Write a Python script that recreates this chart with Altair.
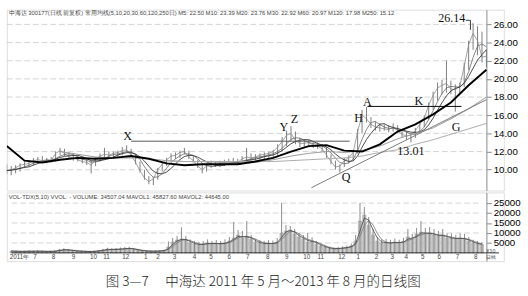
import altair as alt
import pandas as pd

# ---------------- data ----------------
# weekly bars (5 trading days each), trading-day index = 5 * week
week_low = [
    9.5, 9.4, 9.6, 9.8, 10.2, 10.3, 10.5, 10.7, 10.8, 10.7,
    10.8, 10.9, 11.6, 11.5, 11.2, 11.0, 10.9, 10.7, 10.5, 9.6,
    10.4, 10.9, 11.1, 11.2, 11.3, 11.4, 11.6, 11.9, 11.4, 10.6,
    9.7, 8.9, 8.4, 8.3, 8.9, 9.8, 10.4, 10.9, 11.2, 11.3,
    11.7, 11.2, 10.8, 10.2, 9.6, 9.8, 10.2, 10.3, 10.3, 10.4,
    10.5, 10.6, 10.6, 10.7, 10.9, 11.0, 11.0, 11.1, 11.2, 11.3,
    11.4, 11.6, 12.0, 12.6, 13.2, 12.8, 12.5, 12.4, 12.5, 12.4,
    12.3, 12.0, 11.3, 10.6, 10.0, 9.7, 10.3, 10.7, 11.0, 11.8,
    14.0, 15.2, 14.6, 14.3, 14.2, 14.3, 14.1, 14.2, 14.0, 13.5,
    13.3, 13.0, 13.5, 14.0, 14.7, 15.5, 16.6, 17.6, 18.3, 18.5,
    18.3, 16.4, 18.4, 19.1, 21.0, 23.2, 22.6, 21.8, 21.3]
week_high = [
    10.6, 10.4, 10.5, 10.7, 10.9, 10.9, 11.3, 11.4, 11.5, 11.3,
    11.4, 12.0, 12.4, 12.3, 11.9, 11.7, 11.6, 11.4, 11.2, 11.0,
    11.4, 11.8, 12.4, 12.0, 12.0, 12.1, 12.5, 12.7, 12.3, 11.7,
    10.9, 10.0, 9.3, 9.2, 10.2, 10.8, 11.3, 11.8, 11.9, 12.1,
    12.4, 12.1, 11.5, 11.1, 10.6, 10.7, 11.0, 10.9, 11.0, 11.1,
    11.2, 11.3, 11.2, 11.5, 12.4, 11.8, 11.7, 11.8, 11.9, 12.0,
    12.2, 12.8, 13.6, 14.3, 14.8, 14.2, 13.5, 13.3, 13.3, 13.1,
    13.0, 12.8, 12.5, 11.7, 11.0, 10.6, 11.3, 11.6, 12.2, 14.5,
    16.6, 16.9, 15.8, 15.3, 15.1, 15.0, 14.9, 15.1, 14.9, 14.5,
    14.2, 14.0, 14.6, 15.3, 16.0, 17.4, 18.6, 19.6, 19.9, 22.0,
    19.8, 19.4, 19.6, 21.8, 24.2, 26.14, 25.8, 25.2, 23.2]
week_close = [
    9.9, 10.0, 10.2, 10.5, 10.6, 10.7, 11.0, 11.1, 11.0, 11.1,
    11.0, 11.8, 12.1, 11.8, 11.4, 11.3, 11.1, 10.9, 10.8, 10.5,
    11.2, 11.5, 11.7, 11.6, 11.8, 11.9, 12.1, 12.2, 11.6, 10.8,
    9.9, 9.1, 8.7, 9.0, 10.0, 10.6, 11.1, 11.5, 11.6, 11.9,
    12.0, 11.4, 11.0, 10.4, 10.0, 10.4, 10.6, 10.5, 10.7, 10.8,
    10.9, 10.9, 10.8, 11.2, 11.4, 11.3, 11.4, 11.6, 11.7, 11.8,
    12.0, 12.5, 13.1, 13.8, 14.0, 13.2, 12.9, 12.9, 13.0, 12.7,
    12.6, 12.3, 11.6, 10.9, 10.3, 10.4, 11.0, 11.3, 11.9, 14.2,
    16.0, 15.6, 15.0, 14.7, 14.6, 14.5, 14.4, 14.7, 14.3, 13.9,
    13.7, 13.8, 14.3, 15.0, 15.7, 17.1, 18.2, 19.0, 19.3, 19.5,
    18.9, 18.8, 19.2, 21.4, 23.8, 25.0, 24.2, 22.4, 22.5]
week_vol = [
    900, 800, 700, 800, 900, 800, 900, 800, 700, 800,
    900, 1500, 1700, 1400, 1100, 900, 800, 700, 700, 800,
    1100, 1500, 1900, 1700, 1800, 2000, 2200, 2300, 1800, 1300,
    1000, 900, 800, 900, 1000, 1200, 3000, 5500, 6500, 7000,
    6500, 5000, 4500, 4000, 4500, 5000, 4500, 4800, 4500, 5000,
    6000, 7500, 9000, 7500, 8500, 7000, 5500, 5000, 4500, 4800,
    4700, 5500, 10000, 11000, 11500, 9500, 8000, 7000, 5500, 6000,
    4500, 3500, 2800, 2200, 2000, 2300, 2500, 2800, 3500, 6000,
    16000, 19000, 14000, 9000, 6000, 5000, 5200, 4800, 5500, 5000,
    5800, 8000, 7000, 9500, 10500, 9500, 10000, 9000, 8500, 9000,
    7500, 7500, 7000, 7500, 7000, 6000, 5000, 4500, 4200]
week_vol_peak = [
    1200, 1100, 1000, 1100, 1200, 1100, 1200, 1100, 1000, 1100,
    1200, 2000, 2300, 1900, 1500, 1200, 1100, 1000, 1000, 1100,
    1500, 2000, 2600, 2300, 2400, 2700, 3000, 3100, 2400, 1800,
    1300, 1200, 1100, 1200, 1400, 1700, 5800, 7500, 8500, 12800,
    8500, 6800, 6000, 5500, 6000, 6800, 6000, 6500, 6000, 6800,
    8000, 15500, 11500, 11000, 16000, 9000, 7000, 6500, 6000, 6500,
    6200, 7500, 25000, 14000, 13500, 12000, 10000, 9000, 10000, 7800,
    6000, 4600, 3700, 3000, 2700, 3000, 3300, 3700, 4600, 9000,
    25000, 23000, 18000, 12000, 8000, 6800, 7000, 6500, 7200, 6600,
    7600, 12000, 9500, 12500, 16000, 12500, 13000, 12000, 11000, 12000,
    9800, 9800, 9000, 9800, 9500, 8000, 6600, 6000, 5500]

# long moving averages read every 20 trading days
ma60 = [12.6, 11.0, 10.8, 11.1, 11.3, 11.2, 11.3, 11.5, 11.2, 10.7,
        10.5, 10.6, 10.6, 10.6, 10.9, 11.3, 12.0, 12.6, 12.7, 12.1,
        12.0, 12.8, 14.2, 15.0, 16.1, 17.4, 19.3, 21.0]
ma120 = [None, None, None,
         12.0, 11.7, 11.4, 11.3, 11.3, 11.2, 11.0, 10.9, 10.9, 10.8,
         10.7, 10.8, 11.1, 11.5, 11.8, 12.0, 11.9, 12.1, 12.6, 13.4,
         14.0, 14.6, 15.6, 16.7, 18.0]
ma250 = [None, None, None, None, None, None, None, None, None,
         11.0, 10.9, 10.9, 10.9, 10.9, 10.9, 10.9, 11.0, 11.1, 11.2,
         11.3, 11.5, 11.9, 12.2, 12.8, 13.3, 13.9, 14.5, 15.1]

month_labels = ["2011年", "7", "8", "9", "10", "11", "12", "1", "2", "3", "4", "5", "6",
                "7", "8", "9", "10", "11", "12", "1", "2", "3", "4", "5", "6", "7", "8"]
month_pos = [9, 27, 48, 71, 94, 109, 131, 154, 168, 187, 210, 229, 250,
             271, 294, 316, 339, 355, 379, 398, 419, 437, 453, 472, 491, 512, 533]

price_ticks = [10, 12, 14, 16, 18, 20, 22, 24, 26]
vol_ticks = [5000, 10000, 15000, 20000, 25000]

note_text = ["X", "Y", "Z", "H", "A", "K", "G", "Q", "13.01", "26.14"]
note_day = [136, 312, 324, 396, 406, 464, 506, 382, 455, 501]
note_price = [13.67, 14.73, 15.58, 15.69, 17.40, 17.5, 14.73, 9.2, 12.07, 26.66]

seg_day1 = [140, 406, 343, 517, 522]
seg_price1 = [13.14, 16.97, 8.02, 26.45, 26.45]
seg_day2 = [386, 512, 540, 522, 522]
seg_price2 = [13.14, 16.97, 17.71, 26.45, 25.4]
seg_color = ["#555", "#000", "#777", "#333", "#333"]

header_price = ("中海达 300177(日线 前复权) 常用均线(5,10,20,30,60,120,250日) "
                "M5: 22.50 M10: 23.39 M20: 23.76 M30: 22.92 M60: 20.97 M120: 17.98 M250: 15.12")
header_vol = "VOL-TDX(5,10) VVOL: -  VOLUME: 34507.04 MAVOL1: 45827.60 MAVOL2: 44645.00"
title_text = "图 3—7　 中海达 2011 年 5 月～2013 年 8 月的日线图"

side_text = ["X10", "日线"]
side_day = [550, 550]
side_vol = [900, -2184]

LAST_DAY = 540

# ---------------- tables ----------------
wk = pd.DataFrame({
    "day": [5 * i for i in range(len(week_close))],
    "low": week_low, "high": week_high, "close": week_close,
    "vol": week_vol, "peak": week_vol_peak,
})
ma_rows = []
for name, arr in [("MA60", ma60), ("MA120", ma120), ("MA250", ma250)]:
    for k, v in enumerate(arr):
        if v is not None:
            ma_rows.append({"day": 20 * k, "ma": v, "line": name})
ma = pd.DataFrame(ma_rows)
pgrid = pd.DataFrame({"p": price_ticks, "d0": 0, "d1": LAST_DAY})
vgrid = pd.DataFrame({"v": vol_ticks, "d0": 0, "d1": LAST_DAY})
notes = pd.DataFrame({"t": note_text, "day": note_day, "p": note_price})
segs = pd.DataFrame({"d1": seg_day1, "p1": seg_price1, "d2": seg_day2,
                     "p2": seg_price2, "c": seg_color})
months = pd.DataFrame({"t": month_labels, "day": month_pos, "v": -2184})
side = pd.DataFrame({"t": side_text, "day": side_day, "v": side_vol})

XS = alt.Scale(domain=[0, 559.6], nice=False, zero=False)
PS = alt.Scale(domain=[7.71, 27.62], nice=False, zero=False)
VS = alt.Scale(domain=[-4126, 30340], nice=False, zero=False)
X = alt.X("day:Q", scale=XS, axis=None)

PAX = alt.Axis(orient="right", offset=-18, values=price_ticks, format=".2f",
               grid=False, title=None)
VAX = alt.Axis(orient="right", offset=-18, values=vol_ticks, format="d",
               grid=False, title=None)


def PY(field):
    return alt.Y(field, scale=PS, axis=PAX)


def VY(field):
    return alt.Y(field, scale=VS, axis=VAX)


W = 514

# ---------------- price panel ----------------
p_grid = alt.Chart(pgrid).mark_rule(color="#c8c8c8", strokeDash=[6, 3], strokeWidth=0.8).encode(
    x=alt.X("d0:Q", scale=XS, axis=None), x2="d1:Q", y=PY("p:Q"))
p_candle = alt.Chart(wk).mark_rule(color="#7a7a7a", strokeWidth=1, clip=True).encode(
    x=X, y=PY("low:Q"), y2="high:Q")
p_close = alt.Chart(wk).mark_line(color="#8a8a8a", strokeWidth=0.8, clip=True).encode(
    x=X, y=PY("close:Q"))
p_ma20 = alt.Chart(wk).transform_window(
    m="mean(close)", frame=[-3, 0], sort=[alt.SortField("day")]
).mark_line(color="#666", strokeWidth=0.8, clip=True).encode(x=X, y=PY("m:Q"))
p_ma30 = alt.Chart(wk).transform_window(
    m="mean(close)", frame=[-5, 0], sort=[alt.SortField("day")]
).mark_line(color="#333", strokeWidth=0.9, clip=True).encode(x=X, y=PY("m:Q"))
p_ma60 = alt.Chart(ma[ma.line == "MA60"]).mark_line(color="#000", strokeWidth=2, clip=True).encode(
    x=X, y=PY("ma:Q"))
p_ma120 = alt.Chart(ma[ma.line == "MA120"]).mark_line(color="#999", strokeWidth=1, clip=True).encode(
    x=X, y=PY("ma:Q"))
p_ma250 = alt.Chart(ma[ma.line == "MA250"]).mark_line(color="#aaa", strokeWidth=1, clip=True).encode(
    x=X, y=PY("ma:Q"))
p_segs = alt.Chart(segs).mark_rule(strokeWidth=1, clip=True).encode(
    x=alt.X("d1:Q", scale=XS, axis=None), x2="d2:Q",
    y=PY("p1:Q"), y2="p2:Q",
    color=alt.Color("c:N", scale=None))
p_notes = alt.Chart(notes).mark_text(font="Liberation Serif", fontSize=12.5, color="#111").encode(
    x=alt.X("day:Q", scale=XS, axis=None), y=PY("p:Q"), text="t:N")
p_head = alt.Chart(pd.DataFrame({"t": [header_price]})).mark_text(
    align="left", baseline="middle", fontSize=6, font="Liberation Sans", color="#444"
).encode(x=alt.value(2), y=alt.value(3.5), text="t:N")

price = alt.layer(p_grid, p_candle, p_close, p_ma20, p_ma30, p_ma120, p_ma250, p_ma60,
                  p_segs, p_notes, p_head).properties(width=W, height=187)

# ---------------- volume panel ----------------
v_grid = alt.Chart(vgrid).mark_rule(color="#c8c8c8", strokeDash=[6, 3], strokeWidth=0.8).encode(
    x=alt.X("d0:Q", scale=XS, axis=None), x2="d1:Q", y=VY("v:Q"))
v_bar = alt.Chart(wk).mark_bar(size=3.4, color="#c4c4c4", stroke="#9a9a9a", strokeWidth=0.5,
                               clip=True).encode(x=X, y=VY("vol:Q"))
v_peak = alt.Chart(wk).mark_rule(color="#8a8a8a", strokeWidth=1, clip=True).encode(
    x=X, y=VY("peak:Q"), y2=alt.datum(0))
v_ma1 = alt.Chart(wk).transform_window(
    m="mean(vol)", frame=[-1, 0], sort=[alt.SortField("day")]
).mark_line(color="#444", strokeWidth=0.8, clip=True).encode(x=X, y=VY("m:Q"))
v_ma2 = alt.Chart(wk).transform_window(
    m="mean(vol)", frame=[-2, 0], sort=[alt.SortField("day")]
).mark_line(color="#777", strokeWidth=0.8, clip=True).encode(x=X, y=VY("m:Q"))
v_base = alt.Chart(pd.DataFrame({"d0": [0], "d1": [559.6], "v": [0]})).mark_rule(
    color="#000", strokeWidth=0.8).encode(
    x=alt.X("d0:Q", scale=XS, axis=None), x2="d1:Q", y=VY("v:Q"))
v_months = alt.Chart(months).mark_text(fontSize=6.5, font="Liberation Sans", color="#444",
                                       baseline="middle").encode(
    x=alt.X("day:Q", scale=XS, axis=None), y=VY("v:Q"), text="t:N")
v_side = alt.Chart(side).mark_text(
    fontSize=5.5, font="Liberation Sans", color="#444", baseline="middle").encode(
    x=alt.X("day:Q", scale=XS, axis=None), y=VY("v:Q"), text="t:N")
v_head = alt.Chart(pd.DataFrame({"t": [header_vol]})).mark_text(
    align="left", baseline="middle", fontSize=6, font="Liberation Sans", color="#444"
).encode(x=alt.value(2), y=alt.value(5), text="t:N")

volume = alt.layer(v_grid, v_bar, v_peak, v_ma2, v_ma1, v_base, v_months, v_side, v_head
                   ).properties(width=W, height=71)

chart = alt.vconcat(price, volume, spacing=0).properties(
    padding={"left": 6, "top": 4, "right": 7, "bottom": 0},
    title=alt.TitleParams(title_text, orient="bottom", anchor="middle", offset=14,
                          font="Noto Sans CJK SC", fontSize=14, fontWeight=300,
                          color="#222"),
).configure_view(stroke="#000", strokeWidth=1).configure_axis(
    labelFont="Liberation Sans", labelFontSize=6.5, labelColor="#555", tickSize=2,
    tickColor="#000", domainColor="#000", labelPadding=1
).configure(background="white")

chart.save("out.html", embed_options={"renderer": "svg", "actions": False})
